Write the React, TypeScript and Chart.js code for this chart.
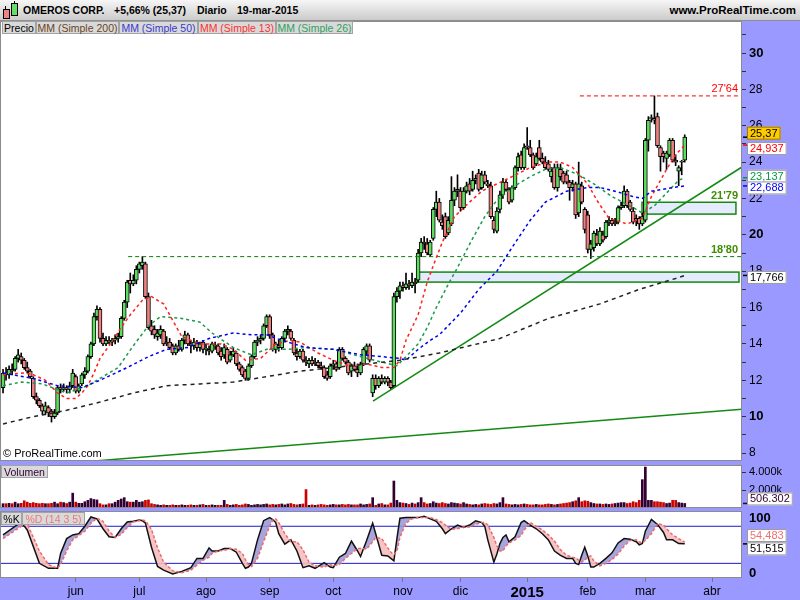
import React, { useEffect, useRef } from "react";
import { Chart, registerables } from "chart.js";

Chart.register(...registerables);

const FONT = 'Arial, "Liberation Sans", Helvetica, sans-serif';

// ---------- price data (daily OHLC, 28-abr-2014 .. 19-mar-2015) ----------
const opens = [
  11.6, 12.4, 12.3, 12.6, 12.6, 13.2, 13.3, 13.1, 12.7, 12.5,
  12.1, 11.1, 10.9, 10.6, 10.3, 10.5, 10.3, 10.0, 10.2, 11.6,
  11.5, 11.6, 11.5, 11.7, 12.2, 11.4, 11.8, 12.3, 12.5, 13.3,
  14.0, 15.5, 15.9, 14.3, 14.0, 14.2, 14.1, 14.2, 14.3, 14.4,
  15.4, 16.3, 17.5, 17.3, 17.5, 18.1, 18.3, 18.4, 16.6, 15.0,
  14.8, 14.4, 14.5, 14.7, 14.0, 14.1, 13.9, 13.5, 13.9, 13.7,
  14.2, 14.5, 14.0, 13.9, 14.1, 13.8, 14.1, 13.7, 13.7, 13.6,
  13.9, 13.9, 13.6, 13.4, 13.7, 13.1, 13.4, 13.5, 12.9, 12.7,
  12.5, 12.1, 12.8, 13.3, 14.1, 14.2, 14.3, 15.0, 15.5, 14.5,
  13.7, 13.9, 13.8, 14.3, 14.7, 14.7, 14.2, 13.5, 13.3, 13.6,
  13.1, 12.9, 13.1, 12.9, 13.0, 12.8, 12.7, 12.3, 12.2, 12.8,
  12.9, 12.7, 13.7, 13.2, 13.0, 12.5, 12.8, 12.6, 12.4, 12.9,
  13.6, 13.9, 11.3, 12.1, 11.7, 12.1, 11.9, 12.1, 11.9, 11.7,
  16.6, 16.9, 17.2, 17.1, 17.3, 17.2, 17.4, 17.5, 19.0, 19.6,
  19.5, 18.9, 19.8, 21.4, 21.8, 20.7, 21.0, 20.1, 20.6, 21.9,
  22.4, 22.4, 21.5, 22.4, 22.8, 22.5, 23.0, 23.4, 22.6, 23.3,
  22.8, 22.7, 20.8, 20.2, 21.4, 22.2, 22.9, 22.5, 21.9, 22.6,
  23.7, 24.4, 23.7, 24.9, 24.8, 24.4, 23.9, 24.8, 24.2, 24.0,
  23.9, 23.2, 23.7, 22.6, 23.6, 23.4, 23.3, 22.9, 22.6, 22.8,
  21.2, 22.7, 21.4, 21.1, 19.2, 19.3, 20.0, 19.5, 20.0, 19.9,
  20.7, 20.8, 20.6, 20.7, 21.5, 21.6, 22.4, 21.8, 21.3, 20.9,
  20.9, 20.6, 20.8, 25.2, 26.4, 26.4, 26.5, 24.8, 24.5, 24.2,
  24.4, 25.2, 24.1, 23.5, 24.0, 24.1,
];
const highs = [
  12.6, 12.7, 12.8, 12.9, 13.3, 13.7, 13.5, 13.2, 13.0, 12.6,
  12.2, 11.3, 11.0, 10.7, 10.8, 10.6, 10.4, 10.4, 11.7, 11.8,
  11.8, 11.7, 11.9, 12.6, 12.3, 11.8, 12.4, 12.7, 13.4, 14.1,
  15.7, 16.1, 16.0, 14.6, 14.4, 14.4, 14.3, 14.5, 14.6, 15.5,
  16.4, 17.5, 17.9, 17.8, 18.3, 18.5, 18.8, 18.5, 16.8, 15.3,
  15.0, 14.8, 15.0, 14.8, 14.4, 14.3, 14.0, 14.0, 14.2, 14.3,
  14.7, 14.6, 14.2, 14.3, 14.2, 14.1, 14.2, 14.0, 13.9, 14.1,
  14.1, 14.0, 13.8, 14.0, 13.8, 13.6, 13.8, 13.6, 13.0, 12.8,
  12.6, 12.9, 13.4, 14.2, 14.4, 14.5, 15.1, 15.6, 15.6, 14.6,
  14.1, 14.2, 14.4, 14.8, 15.0, 14.8, 14.3, 13.7, 13.7, 13.7,
  13.3, 13.2, 13.3, 13.2, 13.1, 13.0, 12.8, 12.5, 12.9, 13.1,
  13.0, 13.8, 13.8, 13.3, 13.1, 12.9, 13.0, 12.9, 13.0, 13.8,
  14.0, 14.0, 12.3, 12.3, 12.2, 12.3, 12.2, 12.2, 12.0, 16.8,
  17.1, 17.4, 17.4, 17.9, 17.5, 17.9, 17.6, 19.2, 19.8, 19.9,
  19.8, 19.7, 21.5, 22.4, 22.0, 21.1, 21.2, 21.0, 23.2, 22.6,
  23.3, 22.6, 22.6, 22.9, 23.1, 23.5, 23.3, 23.6, 23.5, 23.5,
  23.0, 22.9, 21.0, 21.5, 22.4, 23.1, 23.0, 22.6, 22.7, 23.8,
  24.5, 24.6, 25.0, 25.9, 25.2, 24.5, 24.5, 25.2, 24.5, 24.3,
  24.1, 23.7, 23.9, 23.9, 23.9, 23.5, 23.5, 23.0, 23.0, 22.9,
  24.0, 22.9, 21.5, 21.3, 19.7, 20.2, 20.3, 20.4, 20.2, 20.8,
  21.0, 20.9, 20.9, 21.6, 21.8, 22.7, 22.5, 21.9, 21.5, 21.1,
  21.0, 21.2, 25.3, 26.5, 26.6, 27.64, 26.7, 24.9, 24.6, 24.6,
  25.3, 25.3, 24.4, 23.8, 24.1, 25.5,
];
const lows = [
  11.3, 12.0, 12.1, 12.3, 12.5, 13.0, 12.9, 12.6, 12.4, 12.1,
  11.0, 10.7, 10.5, 10.1, 10.1, 10.0, 9.7, 9.9, 10.1, 11.3,
  11.4, 11.3, 11.3, 11.6, 11.3, 11.3, 11.7, 12.1, 12.4, 13.2,
  13.9, 15.3, 14.1, 13.9, 13.9, 14.0, 13.9, 14.0, 14.1, 14.3,
  15.3, 16.0, 16.8, 17.2, 17.3, 17.9, 18.1, 16.5, 14.8, 14.5,
  14.3, 14.2, 14.3, 13.9, 13.9, 13.7, 13.4, 13.4, 13.6, 13.6,
  14.0, 13.9, 13.5, 13.7, 13.6, 13.6, 13.5, 13.4, 13.4, 13.5,
  13.7, 13.4, 13.1, 13.2, 12.9, 13.0, 13.3, 12.8, 12.5, 12.2,
  12.0, 12.0, 12.7, 13.2, 13.9, 14.0, 14.2, 14.9, 14.3, 13.6,
  13.5, 13.6, 13.7, 14.1, 14.5, 14.2, 13.4, 13.1, 13.2, 13.0,
  12.8, 12.7, 12.8, 12.8, 12.7, 12.6, 12.1, 12.0, 12.1, 12.6,
  12.5, 12.6, 13.1, 12.9, 12.3, 12.2, 12.5, 12.2, 12.3, 12.8,
  13.4, 13.0, 11.1, 11.5, 11.6, 11.8, 11.8, 11.7, 11.5, 11.6,
  16.3, 16.5, 16.9, 17.0, 17.0, 17.1, 16.8, 17.4, 18.8, 19.2,
  18.9, 18.8, 19.7, 21.0, 20.7, 20.3, 19.8, 20.0, 20.5, 21.6,
  22.1, 21.3, 21.4, 22.3, 22.2, 22.4, 22.8, 22.4, 22.5, 22.8,
  22.6, 20.9, 20.1, 20.1, 21.2, 22.0, 22.4, 21.7, 21.8, 22.5,
  23.5, 23.6, 23.6, 24.7, 24.3, 23.6, 23.8, 24.1, 23.9, 23.6,
  23.5, 22.9, 22.5, 22.4, 23.0, 22.8, 22.8, 21.9, 22.4, 20.9,
  21.0, 21.7, 20.1, 19.0, 18.7, 19.1, 19.4, 19.4, 19.6, 19.8,
  20.5, 20.5, 20.5, 20.6, 21.4, 21.5, 21.5, 21.3, 20.6, 20.5,
  20.3, 20.5, 20.7, 24.6, 26.2, 26.1, 24.8, 23.5, 24.0, 23.6,
  24.3, 24.0, 23.8, 22.7, 23.3, 24.0,
];
const closes = [
  12.4, 12.3, 12.6, 12.5, 13.2, 13.4, 13.1, 12.7, 12.5, 12.2,
  11.1, 10.9, 10.6, 10.3, 10.6, 10.2, 10.0, 10.2, 11.6, 11.5,
  11.6, 11.5, 11.7, 12.4, 11.4, 11.7, 12.3, 12.5, 13.3, 14.0,
  15.5, 15.9, 14.3, 14.0, 14.2, 14.1, 14.2, 14.3, 14.4, 15.4,
  16.3, 17.4, 17.3, 17.5, 18.1, 18.4, 18.5, 16.6, 14.9, 14.7,
  14.5, 14.6, 14.8, 14.0, 14.1, 13.8, 13.5, 13.9, 13.7, 14.2,
  14.5, 14.0, 13.9, 14.1, 13.8, 14.0, 13.7, 13.75, 13.6, 14.0,
  13.95, 13.5, 13.3, 13.8, 13.0, 13.4, 13.6, 12.9, 12.6, 12.3,
  12.1, 12.8, 13.3, 14.1, 14.2, 14.3, 15.0, 15.5, 14.5, 13.7,
  14.0, 13.8, 14.3, 14.7, 14.8, 14.3, 13.5, 13.3, 13.6, 13.1,
  13.0, 13.1, 12.9, 13.0, 12.8, 12.7, 12.2, 12.1, 12.8, 12.9,
  12.6, 13.7, 13.2, 13.0, 12.4, 12.8, 12.6, 12.4, 12.9, 13.7,
  13.9, 13.1, 12.1, 11.7, 12.1, 11.9, 12.1, 11.9, 11.6, 16.6,
  16.9, 17.2, 17.1, 17.3, 17.2, 17.4, 17.3, 19.0, 19.6, 19.5,
  19.0, 19.6, 21.4, 21.8, 20.8, 20.5, 19.9, 20.8, 21.9, 22.4,
  22.5, 21.5, 22.4, 22.7, 22.4, 23.0, 23.1, 22.5, 23.3, 22.9,
  22.7, 21.0, 20.3, 21.3, 22.2, 22.9, 22.5, 21.8, 22.6, 23.7,
  24.3, 23.7, 24.8, 24.85, 24.4, 23.7, 24.3, 24.2, 24.0, 23.7,
  23.6, 23.5, 22.6, 23.7, 23.2, 22.9, 22.9, 22.6, 22.8, 21.1,
  22.8, 21.8, 20.3, 19.2, 19.5, 20.1, 19.5, 20.2, 19.7, 20.7,
  20.8, 20.6, 20.7, 21.5, 21.6, 22.4, 21.6, 21.4, 20.7, 20.8,
  20.6, 21.0, 25.2, 26.3, 26.45, 26.3, 24.9, 24.3, 24.3, 24.5,
  25.2, 24.1, 24.0, 23.7, 24.0, 25.37,
];
// volume, thousands of shares
const volumes = [
  480, 480, 520, 480, 650, 480, 520, 800, 650, 520,
  600, 520, 480, 520, 480, 480, 520, 650, 480, 650,
  600, 500, 650, 1650, 650, 520, 520, 700, 850, 1050,
  950, 900, 480, 350, 350, 480, 480, 650, 850, 1000,
  1150, 700, 650, 650, 850, 650, 700, 850, 900, 480,
  400, 350, 300, 350, 300, 300, 350, 300, 300, 350,
  300, 300, 350, 300, 300, 350, 400, 300, 300, 350,
  300, 300, 300, 850, 400, 300, 350, 400, 300, 350,
  450, 400, 300, 350, 400, 350, 400, 450, 350, 400,
  350, 400, 450, 350, 450, 500, 400, 350, 400, 450,
  2050, 300, 350, 300, 350, 400, 350, 300, 350, 400,
  350, 350, 400, 350, 400, 350, 350, 350, 450, 350,
  400, 450, 1150, 300, 450, 500, 350, 350, 550, 3000,
  850, 600, 550, 500, 400, 550, 450, 600, 1150, 600,
  450, 500, 700, 550, 500, 600, 500, 450, 600, 550,
  500, 450, 600, 450, 400, 350, 400, 350, 450, 500,
  450, 400, 500, 450, 600, 1150, 450, 400, 350, 400,
  350, 400, 450, 400, 350, 350, 400, 350, 350, 400,
  450, 400, 350, 400, 450, 500, 550, 600, 700, 800,
  1150, 700, 800, 750, 600, 500, 450, 450, 400, 450,
  400, 450, 500, 550, 600, 600, 500, 550, 700, 600,
  850, 3150, 4550, 850, 850, 700, 700, 650, 600, 500,
  550, 850, 850, 600, 550, 506.302,
];

// ---------- moving averages (bar index, value) ----------
const ma13Idx = [0, 7, 10, 14, 18, 21, 24, 26, 28, 30, 32, 35, 39, 42, 46, 49, 53, 56, 59, 65, 72, 76, 80, 85, 90, 95, 98, 104, 109, 114, 120, 125, 129, 131, 133, 137, 140, 142, 145, 149, 154, 158, 163, 168, 174, 180, 184, 188, 193, 196, 200, 206, 211, 214, 219, 222, 225];
const ma13Val = [12.3, 12.4, 12.3, 12.0, 11.3, 11.0, 11.0, 11.3, 11.7, 12.4, 13.2, 13.9, 14.9, 15.6, 16.4, 16.6, 16.2, 15.3, 14.4, 14.0, 14.0, 13.7, 13.1, 13.2, 14.0, 14.2, 14.1, 13.5, 13.1, 12.8, 12.9, 12.7, 12.7, 13.1, 14.2, 15.6, 17.4, 18.3, 19.6, 21.0, 21.8, 22.4, 22.8, 23.2, 23.7, 24.0, 24.0, 23.7, 22.8, 21.9, 20.9, 20.6, 20.9, 22.1, 23.6, 24.4, 24.937];
const ma26Idx = [0, 6, 13, 21, 28, 32, 38, 43, 48, 52, 59, 65, 69, 76, 82, 87, 94, 100, 109, 118, 125, 130, 133, 137, 140, 143, 147, 150, 155, 159, 163, 168, 174, 179, 184, 190, 195, 201, 208, 211, 215, 219, 223, 225];
const ma26Val = [11.7, 11.9, 11.8, 11.3, 11.7, 12.1, 12.7, 13.9, 15.0, 15.5, 15.4, 15.2, 14.6, 13.8, 13.4, 13.7, 13.7, 13.8, 13.7, 13.3, 13.0, 12.8, 13.3, 14.0, 14.9, 16.0, 17.3, 18.2, 19.8, 21.0, 21.9, 22.6, 23.2, 23.6, 23.7, 23.3, 22.8, 22.1, 21.5, 21.2, 21.6, 22.3, 23.0, 23.137];
const ma50Idx = [0, 10, 18, 26, 32, 41, 48, 54, 61, 68, 76, 82, 87, 92, 100, 109, 118, 125, 131, 133, 137, 141, 144, 151, 157, 163, 168, 174, 179, 186, 193, 197, 202, 208, 211, 214, 221, 225];
const ma50Val = [12.4, 12.1, 11.7, 11.6, 12.0, 12.7, 13.3, 13.7, 13.8, 14.3, 14.6, 14.5, 14.5, 14.2, 13.8, 13.7, 13.4, 13.3, 13.2, 13.1, 13.7, 14.2, 14.5, 15.7, 17.0, 18.0, 19.3, 20.8, 21.8, 22.4, 22.6, 22.6, 22.4, 22.1, 22.0, 22.4, 22.6, 22.688];
const ma200Idx = [0, 10, 21, 32, 43, 54, 65, 76, 87, 98, 109, 120, 131, 144, 164, 180, 197, 210, 222, 225];
const ma200Val = [9.6, 10.0, 10.35, 10.8, 11.3, 11.7, 11.8, 11.9, 12.2, 12.5, 12.7, 12.9, 13.1, 13.5, 14.3, 15.4, 16.2, 17.0, 17.6, 17.766];

// ---------- drawn objects ----------
const trendLowIdx = [0, 243.9];
const trendLowVal = [7.16, 10.4];
const trendUpIdx = [122.1, 243.9];
const trendUpVal = [10.85, 23.73];
const levelValues = [27.64, 21.79, 18.8];
const levelLabels = ["27'64", "21'79", "18'80"];
const levelStart = [190.4, 210.9, 41.3];
const zoneStart = [210.9, 136.6];
const zoneEnd = [241.9, 242.9];
const zoneTop = [21.79, 17.95];
const zoneBottom = [21.14, 17.4];

// ---------- stochastic %K / %D (14 3 5) ----------
const stochIdx = [0, 6, 8, 12, 15, 18, 19, 21, 23, 25, 27, 29, 31, 33, 35, 37, 39, 41, 43, 45, 46, 47, 49, 51, 53, 56, 59, 62, 64, 66, 68, 69, 71, 73, 75, 77, 79, 80, 81, 82, 84, 86, 88, 89, 90, 91, 93, 95, 97, 99, 101, 103, 106, 108, 109, 111, 113, 115, 117, 118, 120, 122, 123, 125, 127, 128, 129, 130, 131, 133, 135, 137, 139, 141, 143, 145, 146, 148, 150, 152, 154, 156, 158, 159, 160, 162, 163, 164, 165, 166, 167, 169, 171, 172, 174, 176, 178, 180, 182, 184, 186, 188, 189, 190, 191, 192, 193, 194, 195, 197, 199, 201, 203, 205, 207, 209, 210, 211, 212, 214, 216, 218, 219, 221, 223, 225];
const stochK = [66, 87, 74, 20, 12, 12, 36, 60, 66, 68, 80, 95, 92, 76, 63, 62, 76, 87, 88, 90, 89, 85, 46, 15, 9, 3, 7, 13, 28, 28, 45, 40, 40, 44, 44, 38, 20, 12, 14, 20, 58, 89, 94, 91, 86, 68, 51, 58, 40, 13, 16, 12, 21, 14, 13, 30, 36, 56, 40, 31, 57, 85, 68, 33, 32, 28, 24, 60, 93, 94, 94, 94, 96, 92, 88, 76, 68, 76, 82, 78, 82, 89, 86, 80, 58, 22, 35, 52, 62, 66, 55, 63, 86, 89, 82, 76, 68, 58, 40, 33, 28, 28, 20, 18, 33, 46, 32, 14, 14, 20, 28, 37, 53, 60, 59, 55, 50, 52, 72, 91, 83, 70, 58, 58, 52, 51.515];
const stochD = [60, 80, 84, 40, 18, 12, 18, 40, 58, 65, 72, 85, 93, 88, 72, 62, 67, 78, 87, 89, 90, 89, 75, 45, 22, 8, 5, 9, 17, 25, 30, 36, 40, 41, 44, 43, 36, 26, 18, 15, 28, 55, 80, 90, 92, 86, 68, 55, 55, 42, 22, 16, 14, 18, 16, 18, 28, 36, 44, 44, 43, 55, 62, 60, 45, 38, 34, 40, 62, 85, 92, 94, 94, 94, 91, 86, 82, 75, 76, 79, 79, 83, 86, 86, 82, 62, 48, 40, 40, 48, 53, 58, 65, 74, 86, 80, 74, 66, 56, 42, 33, 30, 29, 25, 22, 25, 30, 32, 24, 16, 20, 26, 35, 48, 57, 58, 55, 53, 57, 68, 84, 82, 76, 66, 60, 54.483];
const stochLevels = [80, 20];
const stochAxisTicks = [0, 100];

// ---------- time axis ----------
const monthIdx = [24, 45, 67, 88, 109, 132, 151, 173, 193, 212, 234];
const monthLabels = ["jun", "jul", "ago", "sep", "oct", "nov", "dic", "2015", "feb", "mar", "abr"];
const priceTicks = [8, 9, 10, 11, 12, 13, 14, 15, 16, 17, 18, 19, 20, 21, 22, 23, 24, 25, 26, 27, 28, 29, 30, 31];

const X_MIN = -1;
const X_MAX = 243.9;
const AXIS_W = 58;
const LAVENDER = "#9999ff";

const pts = (xs: number[], ys: number[]) => xs.map((x, k) => ({ x, y: ys[k] }));
const fmt = (v: number, d: number) => v.toFixed(d).replace(".", ",");

function zeroPad(s: any) {
  s.paddingTop = 0;
  s.paddingBottom = 0;
  s.paddingLeft = 0;
  s.paddingRight = 0;
}

function whiteArea(id: string) {
  return {
    id,
    beforeDraw(chart: any) {
      const { ctx, chartArea: a } = chart;
      ctx.save();
      ctx.fillStyle = "#ffffff";
      ctx.fillRect(a.left, a.top, a.right - a.left, a.bottom - a.top);
      ctx.restore();
    },
    afterDraw(chart: any) {
      const { ctx, chartArea: a } = chart;
      ctx.save();
      ctx.strokeStyle = "#8c8c8c";
      ctx.lineWidth = 1;
      ctx.strokeRect(a.left + 0.5, a.top + 0.5, a.right - a.left - 1, a.bottom - a.top - 1);
      ctx.restore();
    },
  };
}

function drawBox(ctx: any, x: number, cy: number, text: string, color: string, bg: string, border: string) {
  ctx.font = "11px " + FONT;
  const w = ctx.measureText(text).width + 6;
  const h = 13;
  ctx.fillStyle = bg;
  ctx.fillRect(x, cy - h / 2, w, h);
  ctx.strokeStyle = border;
  ctx.lineWidth = 1;
  ctx.strokeRect(x + 0.5, cy - h / 2 + 0.5, w - 1, h - 1);
  ctx.fillStyle = color;
  ctx.textAlign = "left";
  ctx.textBaseline = "middle";
  ctx.fillText(text, x + 3, cy + 0.5);
}

function rightAxis(min: number, max: number, ticks: number[], label: (v: number) => string, font: (v: number) => any) {
  return {
    position: "right",
    min,
    max,
    afterFit(s: any) {
      s.width = AXIS_W;
      zeroPad(s);
    },
    afterBuildTicks(s: any) {
      s.ticks = ticks.map((v) => ({ value: v }));
    },
    grid: { drawOnChartArea: false, drawTicks: true, tickLength: 4, color: "#333" },
    border: { display: false },
    ticks: {
      padding: 3,
      color: "#000",
      autoSkip: false,
      callback: (v: any) => label(Number(v)),
      font: (ctx: any) => font(ctx.tick ? ctx.tick.value : 0),
    },
  };
}

const hiddenX = {
  type: "linear",
  min: X_MIN,
  max: X_MAX,
  display: false,
  offset: false,
  afterFit(s: any) {
    zeroPad(s);
  },
};

export default function App() {
  const mainRef = useRef<HTMLCanvasElement>(null);
  const volRef = useRef<HTMLCanvasElement>(null);
  const stoRef = useRef<HTMLCanvasElement>(null);

  useEffect(() => {
    Chart.defaults.font.family = FONT;
    const charts: any[] = [];
    const n = closes.length;
    const idx = closes.map((_, i) => i);

    // ---------------- main price chart ----------------
    const bodyColors = idx.map((i) => (closes[i] >= opens[i] ? "#5fdc5f" : "#f08080"));
    const mainDecor = {
      id: "mainDecor",
      beforeDatasetsDraw(chart: any) {
        const { ctx } = chart;
        const xs = chart.scales.x;
        const ys = chart.scales.y;
        ctx.save();
        for (let k = 0; k < zoneStart.length; k++) {
          const x0 = xs.getPixelForValue(zoneStart[k]);
          const x1 = xs.getPixelForValue(zoneEnd[k]);
          const y0 = ys.getPixelForValue(zoneTop[k]);
          const y1 = ys.getPixelForValue(zoneBottom[k]);
          ctx.fillStyle = "#e6eaff";
          ctx.fillRect(x0, y0, x1 - x0, y1 - y0);
          ctx.strokeStyle = "#108a10";
          ctx.lineWidth = 1.5;
          ctx.strokeRect(x0, y0, x1 - x0, y1 - y0);
        }
        ctx.restore();
      },
      afterDraw(chart: any) {
        const { ctx, chartArea: a } = chart;
        const ys = chart.scales.y;
        ctx.save();
        for (let k = 0; k < levelValues.length; k++) {
          const y = ys.getPixelForValue(levelValues[k]);
          ctx.textAlign = "right";
          ctx.textBaseline = "bottom";
          if (k === 0) {
            ctx.font = "11px " + FONT;
            ctx.fillStyle = "#ff0000";
          } else {
            ctx.font = "bold 11px " + FONT;
            ctx.fillStyle = "#3f8f00";
          }
          ctx.fillText(levelLabels[k], a.right - 4, y - 1);
        }
        const boxes = [
          { v: closes[n - 1], t: fmt(closes[n - 1], 2), c: "#000", bg: "#ffcc00", b: "#a07800", dy: -4 },
          { v: ma13Val[ma13Val.length - 1], t: fmt(ma13Val[ma13Val.length - 1], 3), c: "#ff0000", bg: "#fff", b: "#999", dy: 3.5 },
          { v: ma26Val[ma26Val.length - 1], t: fmt(ma26Val[ma26Val.length - 1], 3), c: "#009944", bg: "#fff", b: "#999", dy: -1.5 },
          { v: ma50Val[ma50Val.length - 1], t: fmt(ma50Val[ma50Val.length - 1], 3), c: "#0000ff", bg: "#fff", b: "#999", dy: 2 },
          { v: ma200Val[ma200Val.length - 1], t: fmt(ma200Val[ma200Val.length - 1], 3), c: "#000", bg: "#fff", b: "#999", dy: 2 },
        ];
        const markColors = ["#000", "#ff0000", "#009944", "#0000ff", "#000"];
        boxes.forEach((bx, k) => {
          const y = ys.getPixelForValue(bx.v);
          ctx.strokeStyle = markColors[k];
          ctx.lineWidth = 1.5;
          ctx.beginPath();
          ctx.moveTo(a.right + 1, y);
          ctx.lineTo(a.right + 5, y);
          ctx.stroke();
        });
        boxes.forEach((bx) => {
          const y = ys.getPixelForValue(bx.v);
          drawBox(ctx, a.right + 5, y + bx.dy, bx.t, bx.c, bx.bg, bx.b);
        });
        ctx.restore();
      },
    };

    const maLine = (xs: number[], ys: number[], color: string, dash: number[]) => ({
      type: "line",
      data: pts(xs, ys),
      borderColor: color,
      borderWidth: 1.5,
      borderDash: dash,
      pointRadius: 0,
      tension: 0,
      fill: false,
      order: 0,
    });

    const levelColors = ["#ff0000", null, "#0a7a0a"];
    const levelSets: any[] = [];
    [0, 2].forEach((k) => {
      levelSets.push({
        type: "line",
        data: [
          { x: levelStart[k], y: levelValues[k] },
          { x: X_MAX, y: levelValues[k] },
        ],
        borderColor: levelColors[k],
        borderWidth: 1,
        borderDash: [4, 3],
        pointRadius: 0,
        fill: false,
        order: 0,
      });
    });

    const main = new Chart(mainRef.current as any, {
      type: "bar",
      data: {
        datasets: [
          {
            type: "bar",
            data: idx.map((i) => ({ x: i, y: [lows[i], highs[i]] })),
            backgroundColor: "#000",
            barThickness: 1,
            grouped: false,
            order: 2,
          },
          {
            type: "bar",
            data: idx.map((i) => {
              const lo = Math.min(opens[i], closes[i]);
              const hi = Math.max(opens[i], closes[i], lo + 0.04);
              return { x: i, y: [lo, hi] };
            }),
            backgroundColor: bodyColors,
            borderColor: "#000",
            borderWidth: 1,
            borderSkipped: false,
            barThickness: 4,
            grouped: false,
            order: 1,
          },
          maLine(ma200Idx, ma200Val, "#222222", [4, 4]),
          maLine(ma50Idx, ma50Val, "#0000ee", [3, 3]),
          maLine(ma26Idx, ma26Val, "#1a9a4a", [3, 3]),
          maLine(ma13Idx, ma13Val, "#ff2020", [3, 3]),
          maLine(trendLowIdx, trendLowVal, "#138a13", []),
          maLine(trendUpIdx, trendUpVal, "#138a13", []),
          ...levelSets,
        ] as any,
      },
      options: {
        responsive: false,
        animation: false,
        devicePixelRatio: 1,
        events: [],
        layout: { padding: 0, autoPadding: false } as any,
        plugins: { legend: { display: false }, tooltip: { enabled: false } },
        scales: {
          x: hiddenX as any,
          y: rightAxis(7.56, 31.76, priceTicks, (v) => (v % 2 === 0 ? String(v) : ""), (v) =>
            v % 10 === 0 ? { size: 13, weight: "bold" } : { size: 12 }
          ) as any,
        },
      } as any,
      plugins: [whiteArea("wa1"), mainDecor],
    });
    charts.push(main);

    // ---------------- volume ----------------
    const volColors = idx.map((i) => (closes[i] >= opens[i] ? "#330033" : "#cc0000"));
    const volDecor = {
      id: "volDecor",
      afterDraw(chart: any) {
        const { ctx, chartArea: a } = chart;
        const ys = chart.scales.y;
        const y = ys.getPixelForValue(volumes[n - 1]);
        ctx.save();
        ctx.strokeStyle = "#330033";
        ctx.lineWidth = 1.5;
        ctx.beginPath();
        ctx.moveTo(a.right + 1, y);
        ctx.lineTo(a.right + 5, y);
        ctx.stroke();
        drawBox(ctx, a.right + 5, y - 4.5, volumes[n - 1].toFixed(3), "#330033", "#fff", "#999");
        ctx.restore();
      },
    };
    const vol = new Chart(volRef.current as any, {
      type: "bar",
      data: {
        datasets: [
          {
            data: idx.map((i) => ({ x: i, y: volumes[i] })),
            backgroundColor: volColors,
            barThickness: 2,
            grouped: false,
          },
        ] as any,
      },
      options: {
        responsive: false,
        animation: false,
        devicePixelRatio: 1,
        events: [],
        layout: { padding: 0, autoPadding: false } as any,
        plugins: { legend: { display: false }, tooltip: { enabled: false } },
        scales: {
          x: hiddenX as any,
          y: rightAxis(0, 4780, [2000, 4000], (v) => v / 1000 + ".000k", () => ({ size: 11 })) as any,
        },
      } as any,
      plugins: [whiteArea("wa2"), volDecor],
    });
    charts.push(vol);

    // ---------------- stochastic ----------------
    const stoDecor = {
      id: "stoDecor",
      afterDraw(chart: any) {
        const { ctx, chartArea: a } = chart;
        const ys = chart.scales.y;
        const kLast = stochK[stochK.length - 1];
        const dLast = stochD[stochD.length - 1];
        ctx.save();
        // axis labels 100 / 0, kept inside the panel
        ctx.font = "bold 13px " + FONT;
        ctx.fillStyle = "#000";
        ctx.textAlign = "left";
        ctx.textBaseline = "middle";
        stochAxisTicks.forEach((v) => {
          const y = ys.getPixelForValue(v);
          const cy = Math.min(Math.max(y, a.top + 7), a.bottom - 5);
          ctx.fillText(String(v), a.right + 7, cy);
        });
        const yk = ys.getPixelForValue(kLast);
        ctx.strokeStyle = "#000";
        ctx.lineWidth = 1.5;
        ctx.beginPath();
        ctx.moveTo(a.right + 1, yk);
        ctx.lineTo(a.right + 5, yk);
        ctx.stroke();
        drawBox(ctx, a.right + 5, ys.getPixelForValue(dLast) - 6.5, fmt(dLast, 3), "#ee7070", "#fff", "#999");
        drawBox(ctx, a.right + 5, yk + 5, fmt(kLast, 3), "#000", "#fff", "#999");
        ctx.restore();
      },
    };
    const sto = new Chart(stoRef.current as any, {
      type: "line",
      data: {
        datasets: [
          {
            data: pts(stochIdx, stochD),
            borderColor: "#ee6a6a",
            borderWidth: 1.5,
            borderDash: [3, 2],
            pointRadius: 0,
            tension: 0,
            fill: false,
          },
          {
            data: pts(stochIdx, stochK),
            borderColor: "#111",
            borderWidth: 1.5,
            pointRadius: 0,
            tension: 0,
            fill: { target: 0, above: "rgba(150,150,215,0.85)", below: "rgba(245,190,190,0.9)" },
          },
          ...stochLevels.map((lv) => ({
            data: [
              { x: X_MIN, y: lv },
              { x: X_MAX, y: lv },
            ],
            borderColor: "#1a1acc",
            borderWidth: 1,
            pointRadius: 0,
            fill: false,
          })),
        ] as any,
      },
      options: {
        responsive: false,
        animation: false,
        devicePixelRatio: 1,
        events: [],
        layout: { padding: 0, autoPadding: false } as any,
        plugins: { legend: { display: false }, tooltip: { enabled: false } },
        scales: {
          x: {
            type: "linear",
            min: X_MIN,
            max: X_MAX,
            offset: false,
            afterFit(s: any) {
              s.height = 22;
              zeroPad(s);
            },
            afterBuildTicks(s: any) {
              s.ticks = monthIdx.map((v) => ({ value: v }));
            },
            grid: { drawOnChartArea: false, drawTicks: true, tickLength: 4, color: "#777" },
            border: { display: false },
            ticks: {
              autoSkip: false,
              maxRotation: 0,
              minRotation: 0,
              padding: 2,
              color: "#000",
              callback: (_v: any, i: number) => monthLabels[i] || "",
              font: (ctx: any) => (ctx.index === 7 ? { size: 15, weight: "bold" } : { size: 12 }),
            },
          },
          y: {
            ...rightAxis(-3.7, 104.7, stochAxisTicks, () => "", () => ({ size: 13, weight: "bold" })),
            grid: { drawOnChartArea: false, drawTicks: false },
          } as any,
        },
      } as any,
      plugins: [whiteArea("wa3"), stoDecor],
    });
    charts.push(sto);

    return () => charts.forEach((c) => c.destroy());
  }, []);

  const legendBox = (left: number, width: number, text: string, color: string, top = 21) => (
    <div
      style={{
        position: "absolute",
        left,
        top,
        width,
        height: 13,
        background: "#d9d9d9",
        border: "1px solid #a3a3a3",
        boxSizing: "border-box",
        fontSize: 10.5,
        lineHeight: "12px",
        color,
        textAlign: "center",
        whiteSpace: "nowrap",
      }}
    >
      {text}
    </div>
  );

  return (
    <div
      style={{
        position: "absolute",
        left: 0,
        top: 0,
        width: 800,
        height: 600,
        background: LAVENDER,
        overflow: "hidden",
        fontFamily: FONT,
      }}
    >
      <div
        style={{
          position: "absolute",
          left: 0,
          top: 0,
          width: 800,
          height: 21,
          boxSizing: "border-box",
          background: "linear-gradient(#f6f6f6, #cbcbcb)",
          borderBottom: "1px solid #8f8f8f",
          color: "#000",
        }}
      >
        <div style={{ position: "absolute", left: 3, top: 9, width: 5, height: 8, background: "#f08484", border: "1px solid #000" }} />
        <div style={{ position: "absolute", left: 5, top: 6, width: 1, height: 3, background: "#000" }} />
        <div style={{ position: "absolute", left: 11, top: 3, width: 5, height: 11, background: "#66dd66", border: "1px solid #000" }} />
        <div style={{ position: "absolute", left: 13.5, top: 1, width: 1, height: 2, background: "#000" }} />
        <span style={{ position: "absolute", left: 23, top: 0, lineHeight: "20px", fontSize: 10.5, fontWeight: "bold" }}>OMEROS CORP.</span>
        <span style={{ position: "absolute", left: 114, top: 0, lineHeight: "20px", fontSize: 10.5, fontWeight: "bold" }}>+5,66% (25,37)</span>
        <span style={{ position: "absolute", left: 197, top: 0, lineHeight: "20px", fontSize: 10.5, fontWeight: "bold" }}>Diario</span>
        <span style={{ position: "absolute", left: 237, top: 0, lineHeight: "20px", fontSize: 10.5, fontWeight: "bold" }}>19-mar-2015</span>
        <span style={{ position: "absolute", right: 4, top: 0, lineHeight: "20px", fontSize: 11.5, fontWeight: "bold" }}>www.ProRealTime.com</span>
      </div>

      <canvas ref={mainRef} width={800} height={440} style={{ position: "absolute", left: 0, top: 21, width: 800, height: 440 }} />
      <canvas ref={volRef} width={800} height={43} style={{ position: "absolute", left: 0, top: 465, width: 800, height: 43 }} />
      <canvas ref={stoRef} width={800} height={89} style={{ position: "absolute", left: 0, top: 511, width: 800, height: 89 }} />

      {legendBox(2, 34, "Precio", "#000")}
      {legendBox(36, 83, "MM (Simple 200)", "#6b4423")}
      {legendBox(119, 79, "MM (Simple 50)", "#3a3ad0")}
      {legendBox(198, 78, "MM (Simple 13)", "#ff3030")}
      {legendBox(276, 77, "MM (Simple 26)", "#2fa060")}
      <div style={{ position: "absolute", left: 3, top: 447, fontSize: 11, lineHeight: "13px", color: "#000" }}>© ProRealTime.com</div>
      {legendBox(1, 47, "Volumen", "#330033", 465)}
      {legendBox(1, 21, "%K", "#000", 512)}
      {legendBox(22, 63, "%D (14 3 5)", "#ee7777", 512)}
    </div>
  );
}
